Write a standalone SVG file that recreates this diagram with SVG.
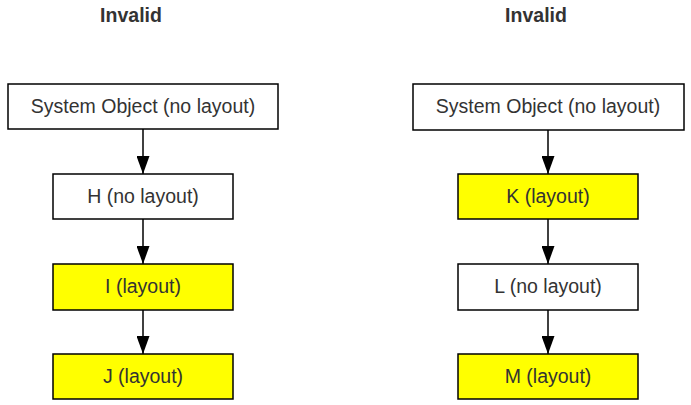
<svg xmlns="http://www.w3.org/2000/svg" width="691" height="405" viewBox="0 0 691 405">
<defs>
<style>
.box{stroke:#000;stroke-width:1.5}
.w{fill:#fff}
.y{fill:#ffff00}
.t{font-family:"Liberation Sans",Arial,sans-serif;font-size:19.5px;fill:#333;text-anchor:middle}
.h{font-family:"Liberation Sans",Arial,sans-serif;font-size:19.5px;font-weight:bold;fill:#333;text-anchor:middle}
.c{stroke:#000;stroke-width:1.5;fill:none}
</style>
<marker id="ah" markerWidth="18" markerHeight="13" refX="18" refY="6.5" orient="auto" markerUnits="userSpaceOnUse" viewBox="0 0 18 13">
<path d="M0,0 L18,6.5 L0,13 Z" fill="#000"/>
</marker>
</defs>
<rect width="691" height="405" fill="#fff"/>
<text class="h" x="131" y="22">Invalid</text>
<text class="h" x="536" y="22">Invalid</text>
<g id="connectors">
<line class="c" x1="143" y1="129" x2="143" y2="174" marker-end="url(#ah)"/>
<line class="c" x1="143" y1="219" x2="143" y2="264" marker-end="url(#ah)"/>
<line class="c" x1="143" y1="310" x2="143" y2="354" marker-end="url(#ah)"/>
<line class="c" x1="548" y1="130" x2="548" y2="174" marker-end="url(#ah)"/>
<line class="c" x1="548" y1="219" x2="548" y2="264" marker-end="url(#ah)"/>
<line class="c" x1="548" y1="310" x2="548" y2="354" marker-end="url(#ah)"/>
</g>
<g id="sys1"><rect class="box w" x="8" y="84" width="270" height="45"/><text class="t" x="143" y="113">System Object (no layout)</text></g>
<g id="H"><rect class="box w" x="53" y="174" width="180" height="45"/><text class="t" x="143" y="203">H (no layout)</text></g>
<g id="I"><rect class="box y" x="53" y="264" width="180" height="46"/><text class="t" x="143" y="293">I (layout)</text></g>
<g id="J"><rect class="box y" x="53" y="354" width="180" height="45"/><text class="t" x="143" y="383">J (layout)</text></g>
<g id="sys2"><rect class="box w" x="413" y="84" width="271" height="46"/><text class="t" x="548" y="113">System Object (no layout)</text></g>
<g id="K"><rect class="box y" x="458" y="174" width="180" height="45"/><text class="t" x="548" y="203">K (layout)</text></g>
<g id="L"><rect class="box w" x="458" y="264" width="180" height="46"/><text class="t" x="548" y="293">L (no layout)</text></g>
<g id="M"><rect class="box y" x="458" y="354" width="180" height="45"/><text class="t" x="548" y="383">M (layout)</text></g>
</svg>
